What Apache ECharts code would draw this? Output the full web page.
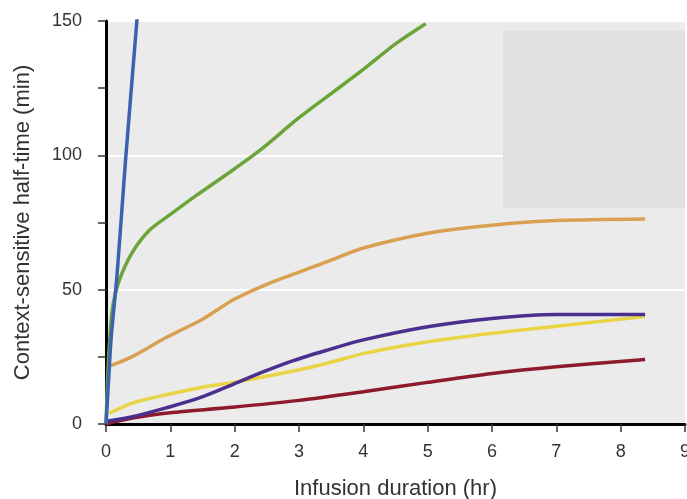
<!DOCTYPE html>
<html>
<head>
<meta charset="utf-8">
<script src="https://cdn.jsdelivr.net/npm/echarts@6/dist/echarts.min.js"></script>
<style>
  html, body { margin: 0; padding: 0; background: #fff; }
  #chart { width: 687px; height: 499px; }
</style>
</head>
<body>
<div id="chart"></div>
<script>
// context-sensitive half-time curves, [hours, minutes]
var blueData   = [[0,0],[0.03,12],[0.08,32],[0.17,55],[0.3,97],[0.48,150],[0.5,156]];
var greenData  = [[0,0],[0.03,20],[0.06,32],[0.1,43],[0.2,53],[0.4,63.5],[0.67,72],[1,78],[1.4,85],[2,95],[2.4,102],[3,114],[3.5,123],[4,132],[4.5,141.5],[4.97,149]];
var orangeData = [[0.05,21.5],[0.4,25],[0.92,32],[1.5,39],[2,46.5],[2.5,52],[3,56.5],[3.5,61],[4,65.5],[5,71],[6,74],[7,75.7],[8.38,76.3]];
var purpleData = [[0,1],[0.41,2.7],[0.92,5.9],[1.44,9.6],[1.95,14.5],[2.4,19],[2.9,23.5],[3.44,27.5],[4,31.3],[5,36.2],[6,39.3],[7,40.8],[8.38,40.8]];
var yellowData = [[0.05,4],[0.41,7.8],[0.92,10.8],[1.44,13.4],[1.95,15.4],[2.46,17.6],[2.97,20],[3.44,22.6],[4,26.2],[5,30.6],[6,33.8],[7,36.4],[8.38,40]];
var redData    = [[0,0],[0.41,2.2],[0.92,4],[1.95,6.2],[2.97,8.7],[4,12],[5,15.5],[6,18.8],[7,21.3],[8.38,24]];

var xTicks = [0, 9, 1];       // min, max, interval
var yTicks = [0, 150, 25];
// blank legend panel in the top-right corner (data coords)
var legendBox = [[6.17, 80.4], [9, 146.4]];

var myChart = echarts.init(document.getElementById('chart'));

var fontFam = '"Liberation Sans", Arial, sans-serif';

function lineSeries(data, color) {
    return {
        type: 'line',
        data: data,
        smooth: 0.3,
        symbol: 'none',
        clip: true,
        lineStyle: { color: color, width: 3.5 },
        z: 3
    };
}

var series = [
    lineSeries(redData, '#8e1b2b'),
    lineSeries(yellowData, '#e8d444'),
    lineSeries(purpleData, '#4a2f8e'),
    lineSeries(orangeData, '#daa052'),
    lineSeries(greenData, '#6da43a'),
    lineSeries(blueData, '#3b62ae')
];
series[0].markArea = {
    silent: true,
    itemStyle: { color: '#e0e0e0' },
    data: [[{ coord: legendBox[0] }, { coord: legendBox[1] }]]
};

option = {
    animation: false,
    grid: {
        left: 106, right: 2, top: 21, bottom: 75,
        outerBoundsMode: 'none',
        containLabel: false,
        show: true,
        backgroundColor: '#ebebeb',
        borderWidth: 0
    },
    xAxis: {
        type: 'value',
        min: xTicks[0], max: xTicks[1], interval: xTicks[2],
        name: 'Infusion duration (hr)',
        nameLocation: 'middle',
        nameGap: 54,
        nameTextStyle: { fontSize: 22, color: '#333', fontFamily: fontFam },
        axisLine: { onZero: false, lineStyle: { color: '#000', width: 3 } },
        axisTick: { length: 8, lineStyle: { color: '#333', width: 1.5 } },
        axisLabel: { margin: 19, fontSize: 18, color: '#333', fontFamily: fontFam, showMaxLabel: true },
        splitLine: { show: false }
    },
    yAxis: [{
        type: 'value',
        min: yTicks[0], max: yTicks[1], interval: yTicks[2],
        name: 'Context-sensitive half-time (min)',
        nameLocation: 'middle',
        nameGap: 72,
        nameTextStyle: { fontSize: 22, color: '#333', fontFamily: fontFam },
        axisLine: { show: true, lineStyle: { color: '#000', width: 3 } },
        axisTick: { length: 8, lineStyle: { color: '#333', width: 1.5 } },
        axisLabel: {
            margin: 24, fontSize: 18, color: '#333', fontFamily: fontFam,
            formatter: function (v) { return v % 50 === 0 ? v : ''; }
        },
        splitLine: { show: false }
    }, {
        // white guide lines at 50 / 100
        type: 'value',
        min: yTicks[0], max: yTicks[1], interval: 50,
        position: 'left',
        axisLine: { show: false },
        axisTick: { show: false },
        axisLabel: { show: false },
        splitLine: { show: true, lineStyle: { color: '#ffffff', width: 2 } }
    }],
    series: series
};

myChart.setOption(option);
</script>
</body>
</html>
